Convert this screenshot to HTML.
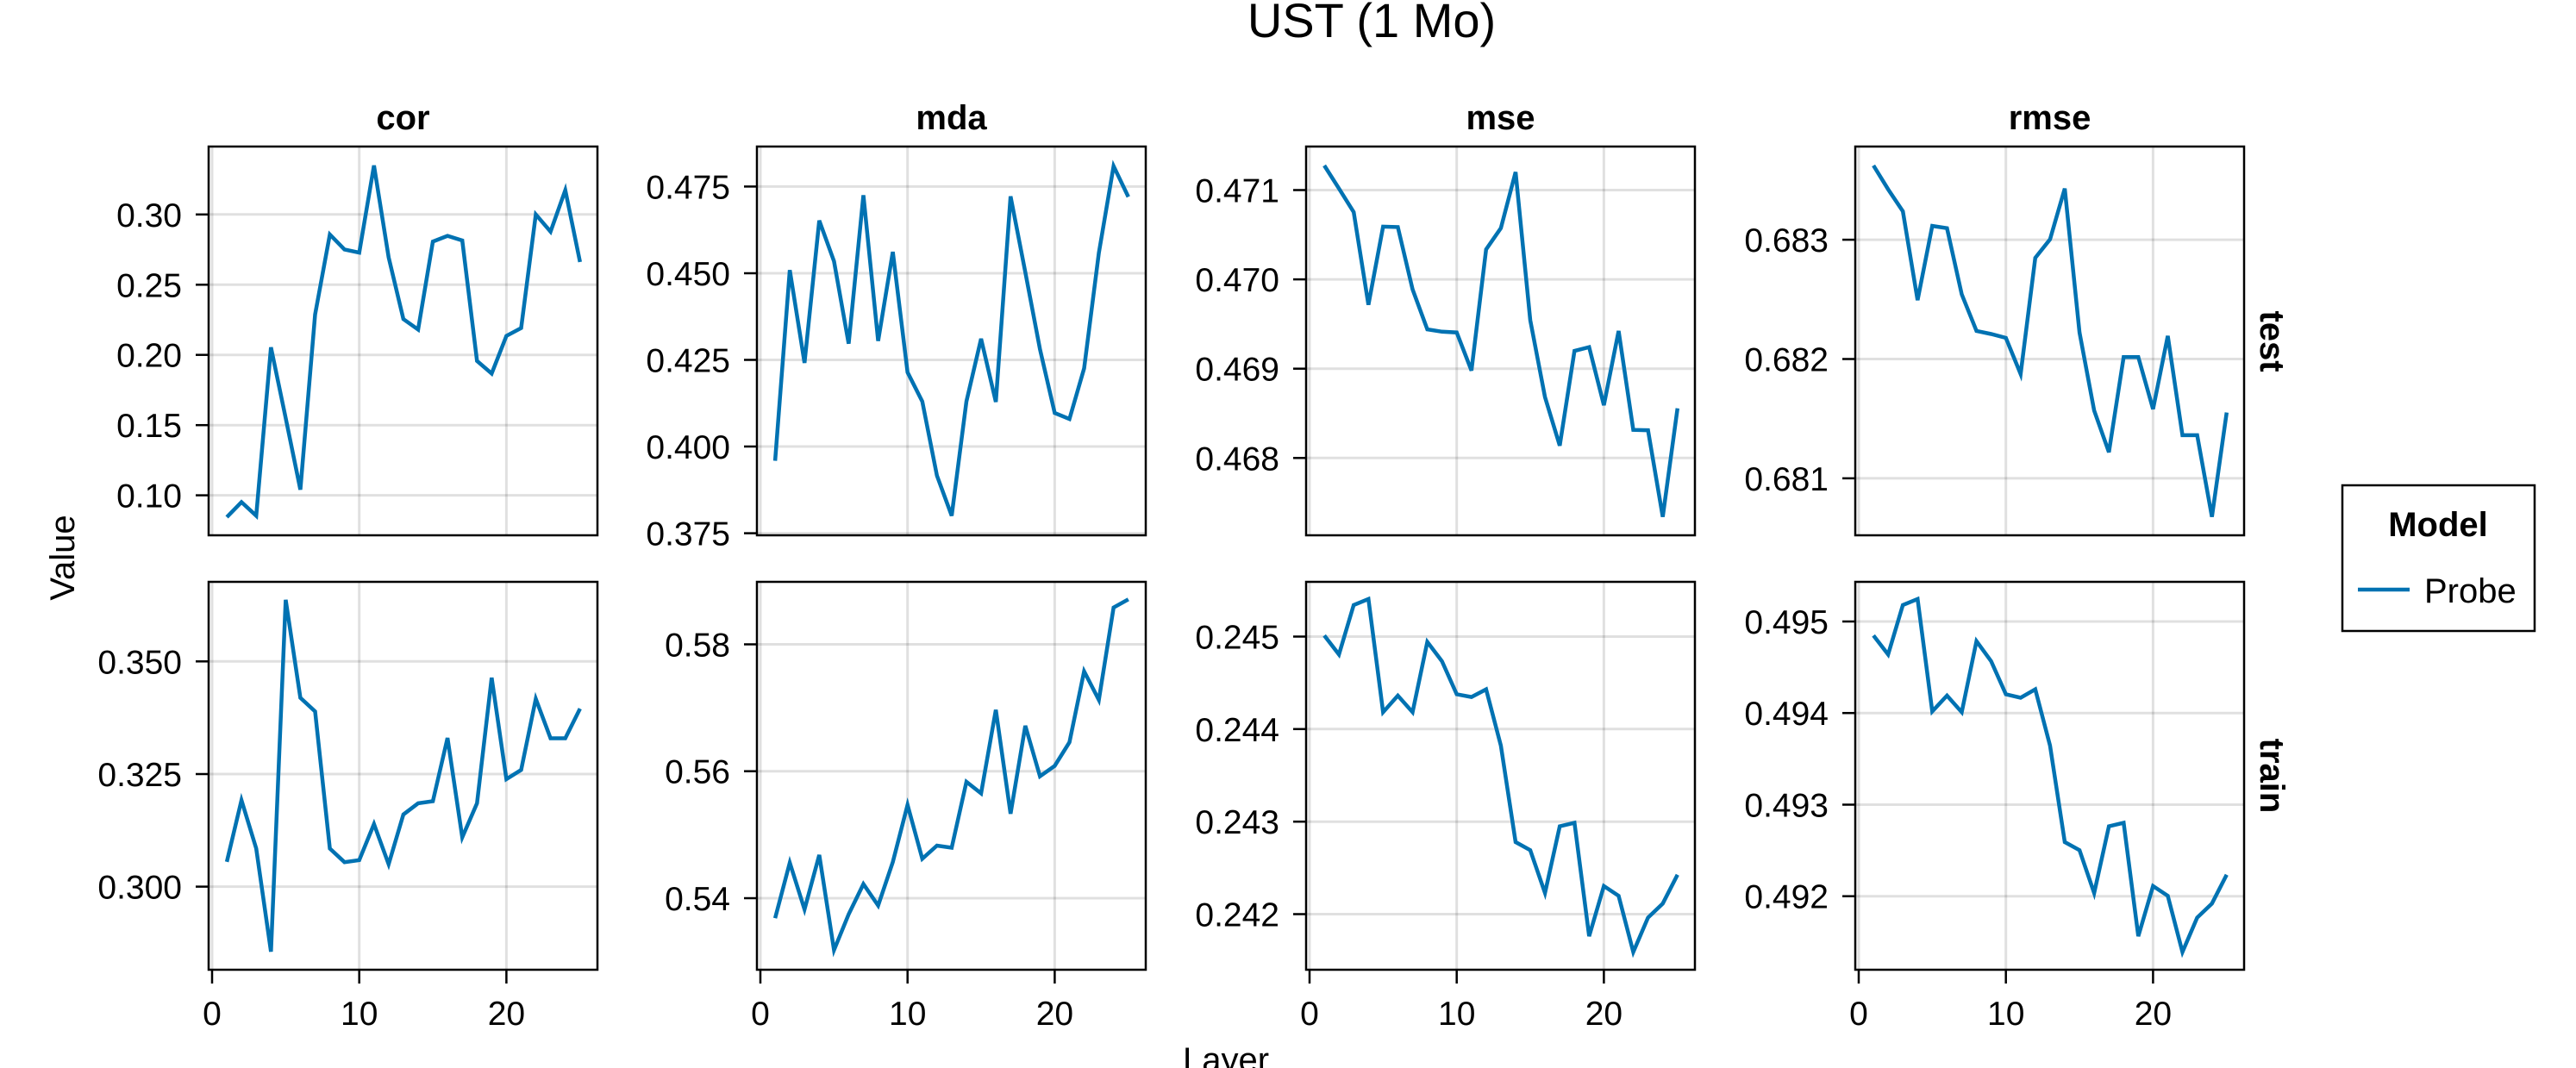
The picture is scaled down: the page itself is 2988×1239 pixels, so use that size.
<!DOCTYPE html>
<html><head><meta charset="utf-8"><style>
html,body{margin:0;padding:0;background:#fff}
svg{display:block}
text{font-family:"Liberation Sans",Arial,sans-serif;fill:#000}
</style></head><body>
<svg id="s" width="2988" height="1239" xmlns="http://www.w3.org/2000/svg">
<text x="1591" y="43" font-size="56" text-anchor="middle">UST (1 Mo)</text>
<text x="1422" y="1243" font-size="40" text-anchor="middle">Layer</text>
<text transform="translate(86,647) rotate(-90)" font-size="40" text-anchor="middle">Value</text>
<text transform="translate(2622,396) rotate(90)" font-size="40" font-weight="bold" text-anchor="middle">test</text>
<text transform="translate(2622,900) rotate(90)" font-size="40" font-weight="bold" text-anchor="middle">train</text>
<rect x="2717" y="563" width="223" height="169" fill="none" stroke="#000" stroke-width="2.5"/>
<text x="2828" y="622" font-size="40" font-weight="bold" text-anchor="middle">Model</text>
<line x1="2735" y1="684" x2="2795" y2="684" stroke="#0072B2" stroke-width="4.5"/>
<text x="2812" y="699" font-size="40">Probe</text>
</svg>
<script>
var s=document.getElementById('s'),NS='http://www.w3.org/2000/svg';
function el(t,a,txt){var e=document.createElementNS(NS,t);for(var k in a)e.setAttribute(k,a[k]);if(txt!==undefined)e.textContent=txt;s.appendChild(e);return e;}
var lefts=[242,878,1515,2152],W=451,rows=[[170,621],[675,1125]];
var titles=['cor','mda','mse','rmse'];
// conv functions from zoom pixel to actual y
var c1=function(z){return z/2.412},c2=function(z){return 620+z/2.533},c3=function(z){return z/2.24},c4=function(z){return 600+z/2.454},c5=function(z){return 150+z/1.568};
var P=[
// row 0
{r:0,c:0,ticks:[['0.10',574.6],['0.15',493.2],['0.20',411.7],['0.25',330.3],['0.30',248.8]],
 d:[1447,1405,1443,972,1170,1370,880,656,698,707,463,720,893,922,676,660,673,1010,1045,940,918,600,648,532,733].map(c1)},
{r:0,c:1,ticks:[['0.375',618.6],['0.400',518.0],['0.425',417.5],['0.450',317.0],['0.475',216.4]],
 d:[603,256,425,166,240,390,120,385,223,442,495,630,703,495,381,496,122,260,400,516,527,435,225,67,123].map(c5)},
{r:0,c:2,ticks:[['0.468',531.3],['0.469',427.7],['0.470',324.1],['0.471',220.5]],
 d:[430,490,551,792,589,590,752,856,862,864,963,648,593,447,832,1032,1158,912,902,1053,860,1117,1118,1343,1061].map(c3)},
{r:0,c:3,ticks:[['0.681',554.9],['0.682',416.5],['0.683',278.1]],
 d:[430,492,549,780,587,593,765,860,868,878,972,670,622,490,864,1067,1175,928,928,1063,873,1131,1131,1343,1072].map(c3)},
{r:1,c:0,ticks:[['0.300',1028.6],['0.325',898.0],['0.350',767.3]],
 d:[962,781,923,1226,192,480,520,923,963,957,851,969,823,790,784,598,890,790,421,719,692,483,599,599,512].map(c2)},
{r:1,c:1,ticks:[['0.54',1042],['0.56',894.7],['0.58',747.5]],
 d:[1435,1334,1419,1320,1493,1428,1373,1412,1333,1229,1327,1303,1307,1187,1208,1056,1245,1085,1177,1158,1115,986,1038,870,855].map(c5)},
{r:1,c:2,ticks:[['0.242',1060.5],['0.243',953.2],['0.244',845.8],['0.245',738.5]],
 d:[337,391,250,233,555,508,555,355,410,504,512,490,650,925,948,1070,880,870,1193,1050,1078,1238,1140,1100,1018].map(c4)},
{r:1,c:3,ticks:[['0.492',1039.7],['0.493',933.5],['0.494',827.2],['0.495',721]],
 d:[337,391,250,233,553,508,555,353,410,504,514,490,650,925,948,1070,880,870,1193,1050,1078,1238,1140,1100,1018].map(c4)}
];
P.forEach(function(p){
 var L=lefts[p.c],T=rows[p.r][0],B=rows[p.r][1];
 var X=function(v){return L+4+17.07*v};
 // grid
 [0,10,20].forEach(function(v){el('line',{x1:X(v),x2:X(v),y1:T,y2:B,stroke:'#000','stroke-opacity':0.12,'stroke-width':3});});
 p.ticks.forEach(function(t){
  el('line',{x1:L,x2:L+W,y1:t[1],y2:t[1],stroke:'#000','stroke-opacity':0.12,'stroke-width':3});
  el('line',{x1:L-15,x2:L,y1:t[1],y2:t[1],stroke:'#000','stroke-width':2.5});
  el('text',{x:L-31,y:t[1]+14,'font-size':39,'text-anchor':'end'},t[0]);
 });
 var pts=p.d.map(function(y,i){return X(i+1).toFixed(1)+','+y.toFixed(1)}).join(' ');
 el('polyline',{points:pts,fill:'none',stroke:'#0072B2','stroke-width':4.5,'stroke-linejoin':'miter'});
 el('rect',{x:L,y:T,width:W,height:B-T,fill:'none',stroke:'#000','stroke-width':2.5});
 if(p.r==0) el('text',{x:L+W/2,y:150,'font-size':40,'font-weight':'bold','text-anchor':'middle'},titles[p.c]);
 if(p.r==1){[0,10,20].forEach(function(v){
  el('line',{x1:X(v),x2:X(v),y1:B,y2:B+16,stroke:'#000','stroke-width':2.5});
  el('text',{x:X(v),y:1189,'font-size':39,'text-anchor':'middle'},String(v));
 });}
});
</script>
</body></html>
